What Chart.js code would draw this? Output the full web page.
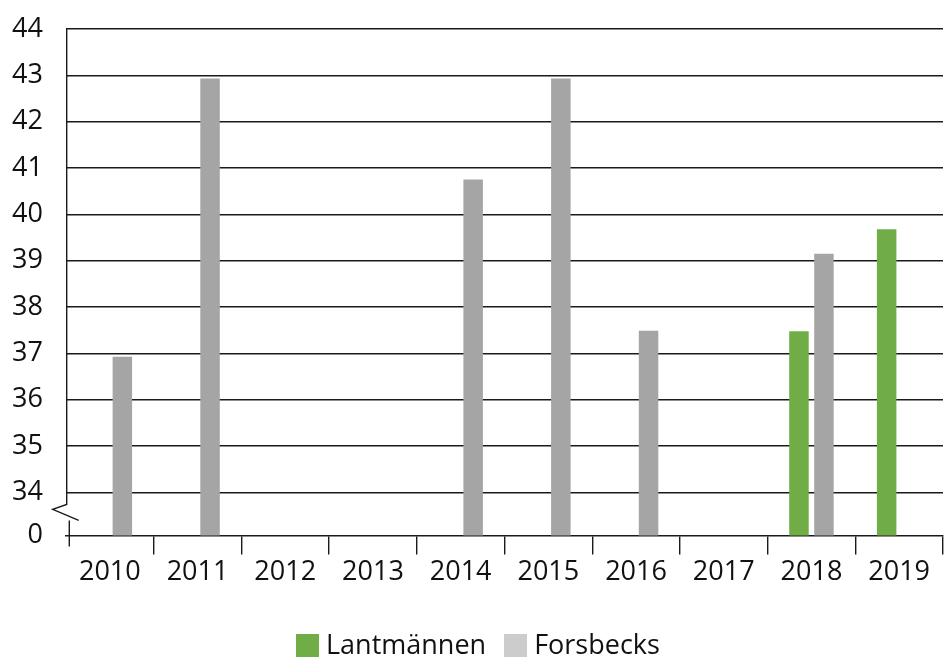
<!DOCTYPE html>
<html>
<head>
<meta charset="utf-8">
<script src="https://cdn.jsdelivr.net/npm/chart.js@4"></script>
<style>
  html, body { margin: 0; padding: 0; background: #fff; }
  #wrap { position: relative; width: 947px; height: 660px; font-family: "Open Sans", sans-serif; }
  #legend { position: absolute; left: 296px; top: 626px; display: flex; align-items: center; font-size: 27px; color: #111; line-height: 36px; }
  .item { display: flex; align-items: center; margin-right: 18px; }
  .box { width: 23px; height: 23px; margin-right: 7px; margin-top: 2px; }
</style>
</head>
<body>
<div id="wrap">
  <canvas id="c" width="947" height="660"></canvas>
  <div id="legend"></div>
</div>
<script>
const years = ['2010','2011','2012','2013','2014','2015','2016','2017','2018','2019'];
const lantmannen = [null, null, null, null, null, null, null, null, 37.48, 39.68];
const forsbecks  = [36.93, 42.93, null, null, 40.75, 42.93, 37.49, null, 39.15, null];
const yTickValues = [34, 35, 36, 37, 38, 39, 40, 41, 42, 43, 44];
const seriesNames = ['Lantmännen', 'Forsbecks'];
const barColors = ['#70ad47', '#a5a5a5'];
const legendColors = ['#70ad47', '#cccccc'];
const breakValue = 33.07; // position drawn as "0" below the axis break

const lineColor = '#1a1a1a';

const axisBreakPlugin = {
  id: 'axisBreak',
  afterDraw(chart) {
    const ctx = chart.ctx;
    const y = chart.scales.y;
    const area = chart.chartArea;
    const x0 = area.left + 0.7;
    const yTop = y.getPixelForValue(44);
    const y34 = y.getPixelForValue(34);
    const yBase = area.bottom;
    ctx.save();
    ctx.strokeStyle = lineColor;
    ctx.lineWidth = 1.4;
    ctx.beginPath();
    ctx.moveTo(x0, yTop);
    ctx.lineTo(x0, y34 + 12);
    ctx.lineTo(x0 - 14, y34 + 17);
    ctx.lineTo(x0 + 12, y34 + 28);
    ctx.moveTo(x0 + 2.6, y34 + 28);
    ctx.lineTo(x0 + 2.6, yBase + 11);
    ctx.stroke();
    ctx.restore();
  }
};

new Chart(document.getElementById('c'), {
  type: 'bar',
  data: {
    labels: years,
    datasets: [
      { label: seriesNames[0], data: lantmannen, backgroundColor: barColors[0], categoryPercentage: 0.57, barPercentage: 0.78 },
      { label: seriesNames[1], data: forsbecks, backgroundColor: barColors[1], categoryPercentage: 0.57, barPercentage: 0.78 }
    ]
  },
  options: {
    responsive: false,
    animation: false,
    layout: { padding: { top: 29, right: 4, left: 0, bottom: 0 } },
    plugins: {
      legend: { display: false },
      tooltip: { enabled: false }
    },
    scales: {
      x: {
        offset: true,
        grid: {
          offset: true,
          drawOnChartArea: false,
          tickLength: 19,
          lineWidth: 1.4,
          color: (c) => (c.index === 0 ? 'rgba(0,0,0,0)' : lineColor)
        },
        border: { display: true, color: lineColor, width: 1.4 },
        ticks: { color: '#111', font: { family: 'Open Sans', size: 27 }, padding: 2, maxRotation: 0, autoSkip: false },
        afterFit(s) { s.height = 124.5; s.paddingLeft = 0; s.paddingRight = 0; }
      },
      y: {
        min: breakValue,
        max: 44,
        afterBuildTicks(s) {
          s.ticks = [{ value: breakValue }].concat(yTickValues.map(v => ({ value: v })));
        },
        grid: {
          drawTicks: false,
          lineWidth: 1.4,
          color: (c) => (c.tick && c.tick.value < 34 ? 'rgba(0,0,0,0)' : lineColor)
        },
        border: { display: false },
        ticks: {
          color: '#111',
          font: { family: 'Open Sans', size: 27 },
          padding: 23,
          callback: (v) => (v < 34 ? '0' : String(v))
        },
        afterFit(s) { s.width = 66; s.paddingTop = 0; s.paddingBottom = 0; }
      }
    }
  },
  plugins: [axisBreakPlugin]
});

const legend = document.getElementById('legend');
seriesNames.forEach((name, i) => {
  const item = document.createElement('div');
  item.className = 'item';
  const box = document.createElement('div');
  box.className = 'box';
  box.style.background = legendColors[i];
  const txt = document.createElement('span');
  txt.textContent = name;
  item.appendChild(box);
  item.appendChild(txt);
  legend.appendChild(item);
});
</script>
</body>
</html>
